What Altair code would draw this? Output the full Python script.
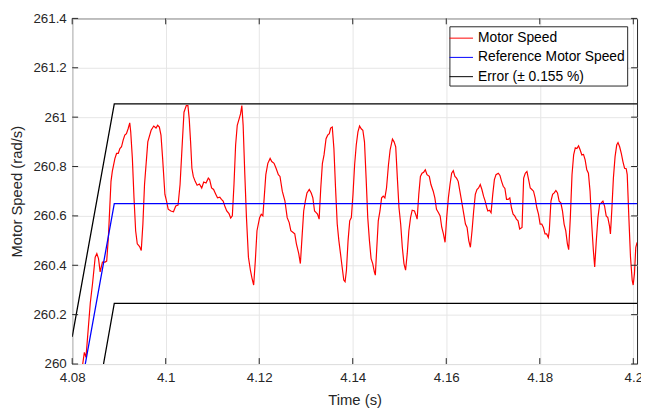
import altair as alt
import pandas as pd

# ---------------- data ----------------
series_names = ["Motor Speed", "Reference Motor Speed", "Error (± 0.155 %)"]
series_colors = ["#ff0000", "#0000ff", "#000000"]

x_ticks = [4.08, 4.10, 4.12, 4.14, 4.16, 4.18, 4.20]
y_ticks = [260.0, 260.2, 260.4, 260.6, 260.8, 261.0, 261.2, 261.4]

motor_t = [
    4.08225, 4.0826, 4.08295, 4.08387, 4.08436, 4.08492, 4.08527, 4.08563, 4.08598, 4.08647,
    4.08703, 4.08738, 4.08774, 4.0883, 4.08858, 4.08914, 4.08949, 4.08985, 4.0902, 4.09055,
    4.0909, 4.09125, 4.0916, 4.09196, 4.09231, 4.09252, 4.09287, 4.09322, 4.09357, 4.09392,
    4.09442, 4.09477, 4.09512, 4.09547, 4.09617, 4.09688, 4.09744, 4.09793, 4.09828, 4.09864,
    4.09899, 4.09934, 4.09983, 4.10018, 4.10053, 4.1011, 4.10166, 4.10215, 4.10264, 4.10307,
    4.10356, 4.10391,
    4.1044, 4.10475, 4.10503, 4.10532, 4.1056, 4.1059, 4.1063, 4.10672, 4.10721, 4.1077,
    4.10813, 4.10862, 4.10911, 4.10939, 4.10981, 4.11024, 4.11073, 4.11108, 4.11157, 4.11192,
    4.11228, 4.11263, 4.11305, 4.11354, 4.1139, 4.11425, 4.1146, 4.11495, 4.1153, 4.1157,
    4.116, 4.11628, 4.11656, 4.11692, 4.11727, 4.11769, 4.11811, 4.11846, 4.11881, 4.11917,
    4.11952, 4.12008, 4.12043, 4.12078, 4.12106, 4.12141, 4.12184, 4.12233, 4.12268, 4.12317,
    4.1236, 4.12409, 4.12444, 4.12493, 4.1255, 4.12598, 4.12641, 4.12676, 4.12725, 4.1276,
    4.12795,
    4.12845, 4.1288, 4.12915, 4.12951, 4.12986, 4.13021, 4.1307, 4.13112, 4.13147, 4.13183,
    4.13218, 4.13246, 4.13281, 4.13316, 4.13351, 4.13386, 4.13429, 4.13464, 4.13499, 4.13527,
    4.13562, 4.13597, 4.13632, 4.13668, 4.13703, 4.13738, 4.13773, 4.13808, 4.13836, 4.13865,
    4.139, 4.13935, 4.1397, 4.14005, 4.1404, 4.14075, 4.14111, 4.14146, 4.14181, 4.14216,
    4.14251, 4.14286, 4.14321, 4.14357, 4.14392, 4.14427, 4.14462, 4.14483, 4.14511, 4.14546,
    4.14582, 4.14617, 4.14652, 4.14687, 4.14722, 4.14764, 4.14799, 4.14849, 4.14884, 4.14919,
    4.14954, 4.14989, 4.15025, 4.1506, 4.15095, 4.1513, 4.15165, 4.152,
    4.15236, 4.15271, 4.1532, 4.15356, 4.15377, 4.15412, 4.15447, 4.15482, 4.15517, 4.15552,
    4.15588, 4.15637, 4.15672, 4.15721, 4.15756, 4.15791, 4.15834, 4.15869, 4.15904, 4.15939,
    4.15974, 4.16009, 4.16045, 4.1608, 4.16115, 4.1615, 4.16185, 4.1622, 4.16255, 4.16291,
    4.1634, 4.16375, 4.1641, 4.16445, 4.16481, 4.16516, 4.16551, 4.16586, 4.16621, 4.16656,
    4.16691, 4.16727, 4.16762, 4.16797, 4.16832, 4.16867, 4.16888, 4.16923, 4.16958, 4.16994,
    4.17029, 4.17064, 4.17113, 4.17148, 4.17183, 4.17218, 4.17254, 4.17289, 4.17324, 4.17359,
    4.17394, 4.17429, 4.17464, 4.175, 4.17535, 4.1757,
    4.1762, 4.17655, 4.1769, 4.17725, 4.17761, 4.17796, 4.17831, 4.17866, 4.17901, 4.17936,
    4.17972, 4.18007, 4.18042, 4.18077, 4.18112, 4.18147, 4.18182, 4.18203, 4.18239, 4.18274,
    4.18309, 4.18344, 4.18379, 4.18414, 4.1845, 4.18485, 4.1852, 4.18555, 4.1859, 4.18618,
    4.18653, 4.18689, 4.18724, 4.18759, 4.18794, 4.18829, 4.18864, 4.18899, 4.18935, 4.1897,
    4.19005, 4.1904, 4.19075, 4.1911, 4.19146, 4.19174, 4.19209, 4.19244, 4.19279, 4.19314,
    4.1935, 4.19385, 4.1942, 4.19455, 4.1949, 4.19511, 4.19539, 4.19574, 4.1961, 4.19645,
    4.19673, 4.19708, 4.19743, 4.19778, 4.19813, 4.19848, 4.1987, 4.19905, 4.1994, 4.19976,
    4.19997, 4.20025, 4.20053, 4.20081,
]

motor_v = [
    260.0, 260.047, 260.027, 260.247, 260.327, 260.433, 260.447, 260.427, 260.373, 260.413,
    260.413, 260.417, 260.513, 260.74, 260.78, 260.833, 260.853, 260.853, 260.873, 260.88,
    260.907, 260.927, 260.933, 260.953, 260.977, 260.94, 260.833, 260.673, 260.54, 260.487,
    260.476, 260.46, 260.567, 260.727, 260.9, 260.947, 260.964, 260.956, 260.967, 260.96,
    260.927, 260.833, 260.687, 260.66, 260.627, 260.62, 260.617, 260.64, 260.644, 260.727,
    260.9, 261.02,
    261.047, 261.047, 260.993, 260.9, 260.793, 260.76, 260.74, 260.724, 260.729, 260.713,
    260.737, 260.733, 260.753, 260.747, 260.713, 260.707, 260.687, 260.673, 260.676, 260.667,
    260.66, 260.64, 260.62, 260.609, 260.591, 260.6, 260.727, 260.887, 260.967, 260.993,
    261.013, 261.047, 260.967, 260.767, 260.593, 260.433, 260.38, 260.347, 260.32, 260.42,
    260.54, 260.593, 260.607, 260.6, 260.673, 260.767, 260.813, 260.833, 260.82, 260.813,
    260.793, 260.767, 260.76, 260.7, 260.66, 260.593, 260.573, 260.54, 260.533, 260.527,
    260.487,
    260.447, 260.407, 260.513, 260.62, 260.66, 260.693, 260.707, 260.693, 260.673, 260.62,
    260.613, 260.607, 260.587, 260.713, 260.813, 260.847, 260.913, 260.927, 260.933, 260.956,
    260.96, 260.873, 260.713, 260.567, 260.5, 260.447, 260.393, 260.34, 260.333, 260.38,
    260.5, 260.58, 260.593, 260.687, 260.807, 260.887, 260.94, 260.964, 260.953, 260.947,
    260.9, 260.753, 260.593, 260.5, 260.427, 260.407, 260.373, 260.36, 260.46, 260.58,
    260.62, 260.673, 260.68, 260.673, 260.713, 260.807, 260.867, 260.911, 260.9, 260.88,
    260.753, 260.633, 260.567, 260.473, 260.407, 260.38, 260.447, 260.54,
    260.593, 260.623, 260.62, 260.6, 260.587, 260.687, 260.76, 260.773, 260.777, 260.787,
    260.767, 260.76, 260.727, 260.7, 260.673, 260.627, 260.613, 260.6, 260.553, 260.527,
    260.493, 260.593, 260.673, 260.727, 260.773, 260.783, 260.76, 260.753, 260.74, 260.7,
    260.647, 260.607, 260.567, 260.553, 260.5, 260.473, 260.54, 260.62, 260.687, 260.707,
    260.713, 260.727, 260.707, 260.68, 260.66, 260.633, 260.62, 260.623, 260.613, 260.687,
    260.747, 260.767, 260.773, 260.764, 260.74, 260.72, 260.711, 260.667, 260.667, 260.673,
    260.633, 260.607, 260.6, 260.587, 260.58, 260.547,
    260.553, 260.753, 260.773, 260.78, 260.747, 260.713, 260.707, 260.7, 260.673, 260.633,
    260.607, 260.567, 260.567, 260.553, 260.527, 260.527, 260.513, 260.54, 260.66, 260.687,
    260.693, 260.703, 260.693, 260.66, 260.653, 260.62, 260.567, 260.54, 260.487, 260.463,
    260.593, 260.767, 260.847, 260.876, 260.873, 260.884, 260.867, 260.847, 260.849, 260.827,
    260.787, 260.773, 260.7, 260.567, 260.46, 260.393, 260.5, 260.593, 260.647, 260.653,
    260.66, 260.64, 260.6, 260.593, 260.56, 260.527, 260.62, 260.753, 260.84, 260.887,
    260.897, 260.88, 260.853, 260.82, 260.793, 260.791, 260.767, 260.593, 260.433, 260.34,
    260.32, 260.367, 260.473, 260.493,
]

ref_t = [4.0828, 4.0890, 4.2008]
ref_v = [260.0, 260.65, 260.65]

err_up_t = [4.0800, 4.0890, 4.2008]
err_up_v = [260.11, 261.054, 261.054]
err_lo_t = [4.0867, 4.0890, 4.2008]
err_lo_v = [260.0, 260.246, 260.246]

# ---------------- tables ----------------
motor_df = pd.DataFrame({"t": motor_t, "v": motor_v, "series": series_names[0], "part": "motor"})
ref_df = pd.DataFrame({"t": ref_t, "v": ref_v, "series": series_names[1], "part": "ref"})
err_df = pd.concat([
    pd.DataFrame({"t": err_up_t, "v": err_up_v, "series": series_names[2], "part": "upper"}),
    pd.DataFrame({"t": err_lo_t, "v": err_lo_v, "series": series_names[2], "part": "lower"}),
], ignore_index=True)
motor_df["i"] = range(len(motor_df))
ref_df["i"] = range(len(ref_df))
err_df["i"] = range(len(err_df))

xticks_df = pd.DataFrame({"t": x_ticks})
yticks_df = pd.DataFrame({"v": y_ticks})

W, H = 572, 350
TICK = 6
FONT = "Liberation Sans"

x_scale = alt.Scale(domain=[4.08, 4.2008], nice=False, zero=False)
y_scale = alt.Scale(domain=[260.0, 261.4], nice=False, zero=False)

x_axis = alt.Axis(values=x_ticks, format=".2~f", labelFlush=False, labelOverlap=False,
                  tickSize=0, labelPadding=7, titlePadding=8, grid=True, domain=False)
y_axis = alt.Axis(values=y_ticks, format=".1~f", labelFlush=False, labelOverlap=False,
                  tickSize=0, labelPadding=6, titlePadding=9, grid=True, domain=False)

X = alt.X("t:Q", scale=x_scale, axis=x_axis, title="Time (s)")
Y = alt.Y("v:Q", scale=y_scale, axis=y_axis, title="Motor Speed (rad/s)")
C = alt.Color("series:N",
              scale=alt.Scale(domain=series_names, range=series_colors),
              legend=alt.Legend(title=None))


def line_layer(df, width):
    return alt.Chart(df).mark_line(strokeWidth=width, clip=True).encode(
        x=X, y=Y, color=C, detail="part:N", order="i:Q")


motor = line_layer(motor_df, 1.2)
ref = line_layer(ref_df, 1.3)
err = line_layer(err_df, 1.3)

tick_color = "#262626"
bottom_ticks = alt.Chart(xticks_df).mark_rule(color=tick_color, strokeWidth=1).encode(
    x=X, y=alt.value(H), y2=alt.value(H - TICK))
top_ticks = alt.Chart(xticks_df).mark_rule(color=tick_color, strokeWidth=1).encode(
    x=X, y=alt.value(0), y2=alt.value(TICK))
left_ticks = alt.Chart(yticks_df).mark_rule(color=tick_color, strokeWidth=1).encode(
    y=Y, x=alt.value(0), x2=alt.value(TICK))
right_ticks = alt.Chart(yticks_df).mark_rule(color=tick_color, strokeWidth=1).encode(
    y=Y, x=alt.value(W), x2=alt.value(W - TICK))

chart = alt.layer(
    motor, ref, err, bottom_ticks, top_ticks, left_ticks, right_ticks
).properties(
    width=W, height=H,
    autosize=alt.AutoSizeParams(type="none"),
    padding={"left": 65, "top": 8, "right": 4, "bottom": 42},
    background="white",
).configure_view(
    stroke="#262626", strokeWidth=1
).configure_axis(
    gridColor="#e6e6e6", gridWidth=1,
    labelFont=FONT, titleFont=FONT,
    labelColor="#262626", titleColor="#262626",
    labelFontSize=13.5, titleFontSize=15, titleFontWeight="normal",
).configure_legend(
    orient="none", legendX=382, legendY=8,
    strokeColor="#262626", fillColor="white", padding=2,
    labelFont=FONT, labelFontSize=14, labelColor="#000000", labelLimit=400,
    symbolType="M-1.25,0H1.25", symbolSize=361, symbolStrokeWidth=1,
    labelOffset=7, rowPadding=2.5,
)

chart.save("out.html", embed_options={"renderer": "svg", "actions": False})
